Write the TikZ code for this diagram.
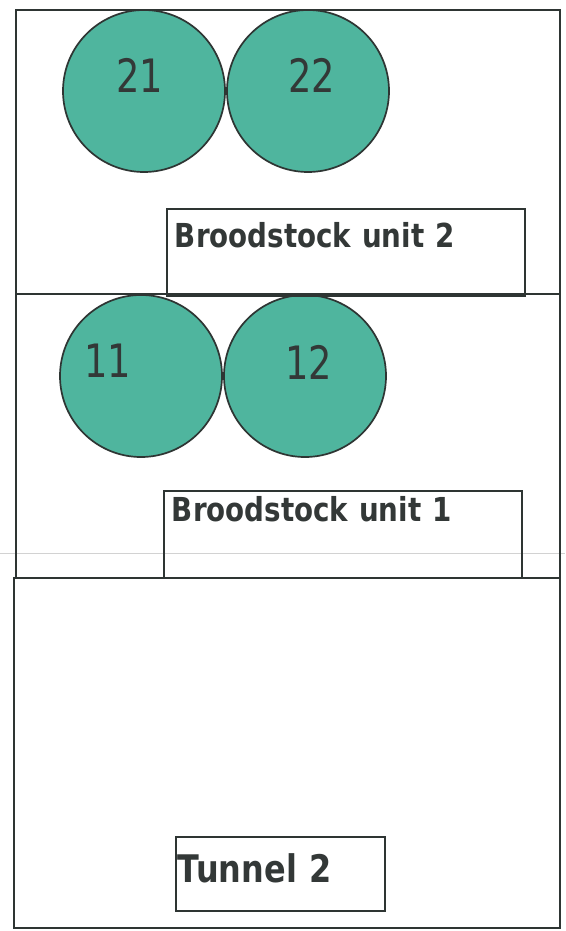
\documentclass[tikz,border=0pt]{standalone}
\usepackage{fontspec}
\usepackage{tikz}
\newfontfamily\tagfont[FakeStretch=0.84]{DejaVu Sans}
\newfontfamily\numfont[FakeStretch=0.8]{DejaVu Sans}
\definecolor{tankfill}{HTML}{4FB59E}
\definecolor{edge}{HTML}{2E3533}
\definecolor{ink}{HTML}{333837}

\begin{document}
\begin{tikzpicture}[x=1pt, y=-1pt, node distance=164pt,
  tank/.style={circle, draw=edge, fill=tankfill, line width=1.7pt, minimum size=162pt, inner sep=0pt},
  num/.style={font=\numfont\fontsize{46}{46}\selectfont, text=ink},
  tag/.style={draw=edge, line width=1.8pt, anchor=north west, inner xsep=8pt, inner ysep=2pt,
    align=left, text=ink, font=\tagfont\bfseries\fontsize{33}{33}\selectfont},
  bay/.style={draw=edge, line width=1.8pt}]
  \fill[white] (0,0) rectangle (565,931);
  \useasboundingbox (0,0) rectangle (565,931);

  \draw[gray!35, line width=0.8pt] (0,553) -- (565,553);
  \draw[bay] (16,10) rectangle (560,294);
  \draw[bay] (16,294) rectangle (560,578);
  \draw[bay] (14,578) rectangle (560,928);

  \node[tank, label={[num, xshift=-4pt, yshift=16pt]center:21}] (t21) at (144,91) {};
  \node[tank, label={[num, xshift=4pt, yshift=16pt]center:22}]  (t22) [right of = t21] {};
  \node[tank, label={[num, xshift=-33pt, yshift=15pt]center:11}] (t11) at (141,376) {};
  \node[tank, label={[num, xshift=4pt, yshift=14pt]center:12}]  (t12) [right of = t11] {};

  \node[tag, text width=342pt, text height=37pt, text depth=46pt] (u2) at (166,208) {Broodstock unit 2};
  \node[tag, text width=342pt, text height=29pt, text depth=54pt] (u1) at (163,490) {Broodstock unit 1};
  \node[tag, inner xsep=2pt, text width=205pt, text height=44pt, text depth=26pt,
    font=\tagfont\bfseries\fontsize{38}{38}\selectfont] (tun) at (175,836) {Tunnel 2};
\end{tikzpicture}
\end{document}
